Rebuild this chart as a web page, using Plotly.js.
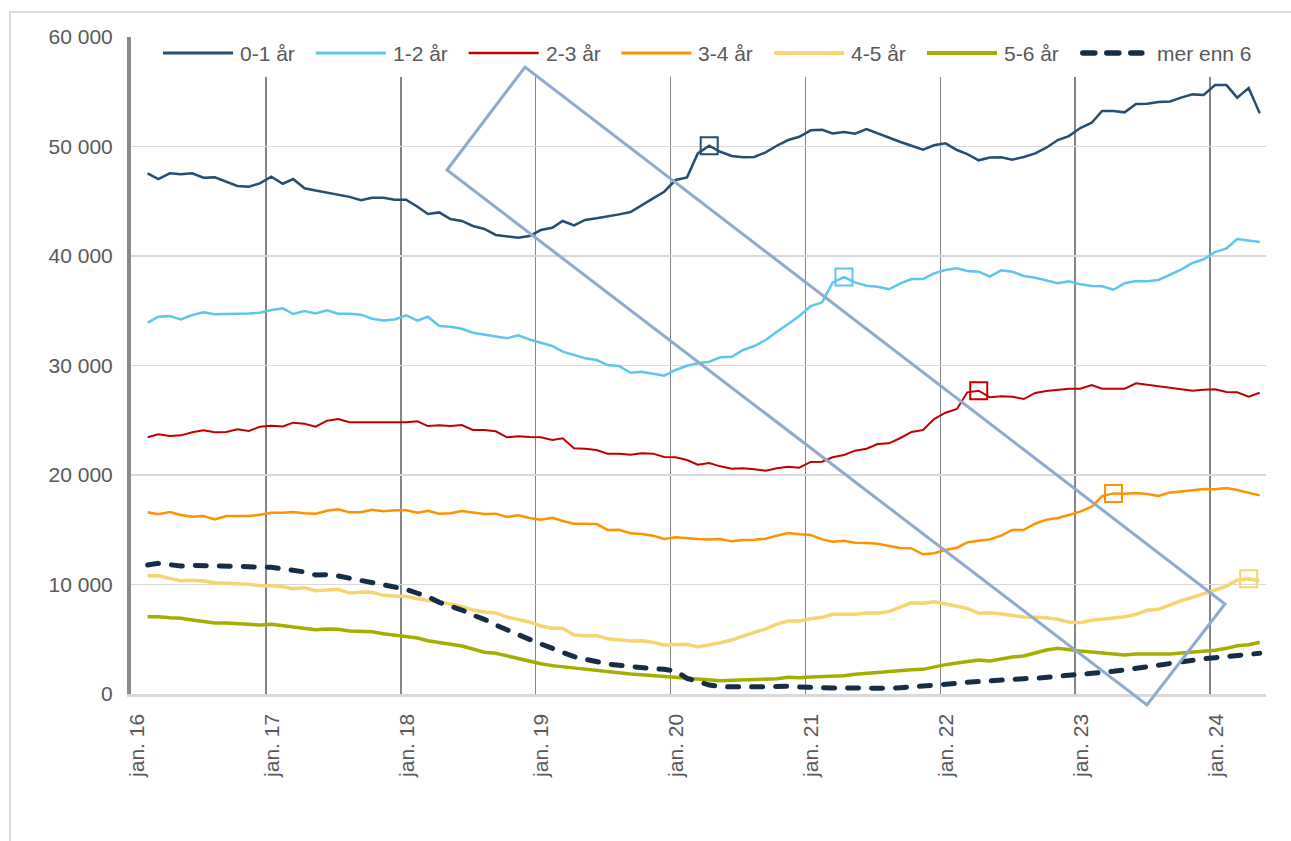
<!DOCTYPE html>
<html>
<head>
<meta charset="utf-8">
<script src="https://cdn.plot.ly/plotly-3.0.1.min.js"></script>
<style>
  html, body { margin: 0; padding: 0; background: #ffffff; }
  #chart { position: absolute; left: 0; top: 0; width: 1291px; height: 841px; }
  #frame { position: absolute; left: 9px; top: 11px; right: 0; bottom: 0;
           border-left: 2px solid #d9d9d9; border-top: 2px solid #d9d9d9; pointer-events: none; }
</style>
</head>
<body>
<div id="chart"></div>
<div id="frame"></div>
<script>
// ---------- DATA ----------
const seriesNames = ['0-1 år', '1-2 år', '2-3 år', '3-4 år', '4-5 år', '5-6 år', 'mer enn 6'];

// monthly observations, Feb 2016 .. May 2024 (100 months)
const firstYear = 2016, firstMonth = 2, nMonths = 100;

const s01 = [47550,47030,47550,47460,47550,47150,47180,46760,46390,46330,
             46630,47240,46600,47030,46180,45990,45780,45600,45400,45090,
             45320,45320,45140,45140,44500,43830,43980,43380,43200,42740,
             42470,41920,41800,41670,41820,42370,42580,43200,42800,43290,
             43440,43590,43800,44020,44660,45260,45870,46940,47180,49370,
             50070,49520,49130,49010,49040,49470,50070,50590,50890,51480,
             51530,51190,51320,51170,51600,51190,50830,50410,50070,49710,
             50110,50290,49680,49310,48740,49000,49010,48800,49040,49370,
             49890,50590,50950,51690,52170,53240,53240,53120,53880,53910,
             54060,54120,54460,54760,54700,55610,55610,54460,55340,53030];

const s12 = [33910,34460,34520,34210,34610,34860,34680,34680,34730,34760,
             34820,35070,35220,34700,34970,34760,35040,34730,34730,34640,
             34270,34120,34210,34580,34090,34460,33610,33540,33360,32990,
             32840,32690,32480,32750,32380,32080,31780,31260,30990,30660,
             30500,30040,29950,29340,29430,29280,29070,29590,29980,30200,
             30350,30750,30800,31410,31780,32330,33090,33790,34520,35430,
             35770,37560,38080,37590,37280,37190,36960,37510,37900,37900,
             38420,38720,38880,38630,38570,38110,38690,38570,38170,38020,
             37740,37510,37690,37410,37260,37230,36920,37510,37720,37690,
             37810,38260,38750,39360,39700,40360,40700,41550,41430,41280];

const s23 = [23440,23710,23560,23620,23900,24080,23900,23930,24170,24020,
             24410,24500,24440,24780,24680,24410,24960,25110,24810,24810,
             24750,24810,24810,24810,24900,24470,24540,24470,24560,24110,
             24110,23990,23440,23530,23470,23440,23200,23350,22440,22400,
             22280,21950,21950,21850,21980,21950,21640,21620,21370,20940,
             21090,20790,20580,20610,20520,20390,20610,20760,20670,21190,
             21220,21620,21830,22220,22400,22830,22890,23380,23930,24110,
             25110,25690,26030,27550,27700,27100,27190,27150,26940,27490,
             27670,27760,27880,27880,28220,27880,27910,27880,28370,28250,
             28070,27980,27850,27700,27790,27820,27580,27550,27150,27510];

const s34 = [16590,16410,16620,16350,16190,16250,15950,16250,16250,16250,
             16370,16560,16560,16620,16500,16470,16740,16860,16590,16590,
             16830,16680,16770,16770,16560,16740,16470,16500,16710,16590,
             16440,16470,16160,16320,16070,15920,16100,15800,15550,15550,
             15520,14980,15000,14670,14610,14460,14160,14310,14220,14150,
             14120,14150,13940,14060,14090,14180,14460,14700,14580,14520,
             14120,13910,14000,13820,13790,13730,13520,13330,13300,12760,
             12850,13150,13360,13850,14000,14120,14460,14980,15000,15550,
             15920,16070,16350,16650,17100,18080,18320,18290,18350,18260,
             18080,18410,18500,18630,18720,18690,18810,18630,18410,18140];

const s45 = [10800,10800,10560,10350,10380,10320,10160,10110,10140,10020,
             9890,9890,9800,9620,9710,9430,9500,9560,9220,9310,
             9290,9010,8950,8920,8700,8560,8430,8220,7970,7670,
             7490,7400,7030,6820,6580,6210,6000,6000,5390,5330,
             5330,5050,4930,4840,4870,4720,4470,4470,4540,4290,
             4470,4680,4930,5300,5630,5940,6390,6670,6670,6880,
             7000,7280,7280,7280,7400,7400,7520,7920,8340,8280,
             8430,8220,7970,7820,7370,7420,7300,7150,7030,7000,
             6970,6820,6580,6510,6730,6820,6910,7060,7280,7640,
             7730,8130,8520,8830,9130,9500,9860,10410,10530,10350];

const s56 = [7060,7060,6970,6910,6760,6640,6480,6480,6420,6300,
             6300,6360,6240,6150,6030,5870,5940,5910,5750,5720,
             5690,5510,5360,5230,5110,4870,4720,4570,4380,4110,
             3810,3720,3470,3260,3040,2770,2590,2490,2350,2220,
             2130,1980,1920,1830,1760,1670,1610,1490,1430,1340,
             1280,1220,1250,1280,1280,1340,1400,1520,1490,1550,
             1580,1580,1670,1800,1890,1950,2010,2130,2220,2250,
             2470,2680,2830,2990,3110,3010,3220,3380,3470,3770,
             4020,4170,4020,3930,3840,3740,3680,3560,3650,3650,
             3650,3650,3740,3840,3870,3990,4170,4410,4500,4720];

const s6p = [11780,11930,11810,11690,11750,11720,11690,11720,11720,11690,
             11600,11570,11440,11320,11140,10870,10900,10780,10590,10410,
             10160,9950,9800,9560,9200,8890,8370,8040,7670,7210,
             6820,6300,5840,5390,4990,4570,4170,3770,3410,3170,
             2920,2740,2620,2490,2400,2310,2250,2100,1430,1080,
             820,670,640,640,670,670,700,700,640,580,
             550,550,550,520,520,520,520,580,640,730,
             820,910,970,1070,1160,1220,1280,1340,1400,1430,
             1520,1580,1640,1710,1830,1950,2070,2190,2350,2490,
             2650,2800,2950,3110,3220,3310,3410,3530,3620,3720];

// one highlighted month per cohort (April each year)
const highlightMonths = ['2020-04', '2021-04', '2022-04', '2023-04', '2024-04'];

const xTickVals = ['2016-01-01','2017-01-01','2018-01-01','2019-01-01','2020-01-01',
                   '2021-01-01','2022-01-01','2023-01-01','2024-01-01'];
const xTickText = ['jan. 16','jan. 17','jan. 18','jan. 19','jan. 20',
                   'jan. 21','jan. 22','jan. 23','jan. 24'];
const yTickVals = [0, 10000, 20000, 30000, 40000, 50000, 60000];
const yTickText = ['0', '10 000', '20 000', '30 000', '40 000', '50 000', '60 000'];

// ---------- BUILD ----------
const months = [];
for (let i = 0; i < nMonths; i++) {
  const d = new Date(Date.UTC(firstYear, firstMonth - 1 + i, 15));
  months.push(d.toISOString().slice(0, 10));
}

const allSeries = [s01, s12, s23, s34, s45, s56, s6p];
const colors = ['#254e72', '#5ec5ee', '#c00000', '#ff9200', '#f4d572', '#a4ae00', '#172d45'];
const widths = [2.5, 2.5, 2, 2.5, 3.5, 3.5, 5];
const dashes = ['solid', 'solid', 'solid', 'solid', 'solid', 'solid', '11px,13px'];

const traces = allSeries.map((s, k) => ({
  type: 'scatter', mode: 'lines', name: seriesNames[k],
  x: months, y: s, showlegend: false, hoverinfo: 'skip',
  line: { color: colors[k], width: widths[k], dash: dashes[k] }
}));

highlightMonths.forEach((m, k) => {
  const idx = months.findIndex(d => d.startsWith(m));
  traces.push({
    type: 'scatter', mode: 'markers', showlegend: false, hoverinfo: 'skip',
    x: [months[idx]], y: [allSeries[k][idx]],
    marker: { symbol: 'square-open', size: 17, color: colors[k], line: { width: 2, color: colors[k] } }
  });
});

// plot area in page pixels
const L = 131, R = 1266, T = 37, B = 694;
const px = X => (X - L) / (R - L);
const py = Y => (B - Y) / (B - T);

const font = 'Arial, "Liberation Sans", sans-serif';
const shapes = [];
const annotations = [];

// white legend band covering gridlines
shapes.push({ type: 'rect', xref: 'paper', yref: 'paper', x0: px(139), x1: 1.0, y0: py(77), y1: 1.0,
  fillcolor: '#ffffff', line: { width: 0 }, layer: 'above' });

// legend
const legY = py(53);
seriesNames.forEach((name, k) => {
  const xs = 163 + 152.8 * k;
  const dashed = (k === 6);
  const x0 = dashed ? xs + 3 : xs;
  const x1 = dashed ? xs + 62 : xs + 70;
  shapes.push({ type: 'line', xref: 'paper', yref: 'paper', x0: px(x0), x1: px(x1), y0: legY, y1: legY,
    line: { color: colors[k], width: dashed ? 5.5 : widths[k] + 0.5, dash: dashed ? '12px,12px' : 'solid' }, layer: 'above' });
  annotations.push({ xref: 'paper', yref: 'paper', x: px(xs + 75), y: legY, xanchor: 'left', yanchor: 'middle',
    text: name, showarrow: false, font: { family: font, size: 21, color: '#595959' } });
});

// highlighted cohort band (rotated rectangle)
const band = [[447, 170], [525, 67], [1225, 604], [1147, 705]];
shapes.push({ type: 'path', xref: 'paper', yref: 'paper',
  path: 'M' + band.map(p => px(p[0]) + ',' + py(p[1])).join(' L') + ' Z',
  line: { color: '#8eaacc', width: 3 }, fillcolor: 'rgba(0,0,0,0)', layer: 'above' });

const layout = {
  width: 1291, height: 841,
  margin: { l: L, r: 1291 - R, t: T, b: 841 - B, pad: 0 },
  paper_bgcolor: '#ffffff', plot_bgcolor: '#ffffff',
  font: { family: font, size: 21, color: '#595959' },
  showlegend: false,
  xaxis: {
    type: 'date', range: ['2016-01-01', '2024-06-01'],
    tickmode: 'array', tickvals: xTickVals, ticktext: xTickText, tickangle: -90,
    ticklabelshift: 6, ticklabelstandoff: 9,
    showgrid: true, gridcolor: '#858585', gridwidth: 1.6,
    showline: true, linecolor: '#d9d9d9', linewidth: 2.5,
    zeroline: false, ticks: '', fixedrange: true,
    tickfont: { family: font, size: 21, color: '#595959' }
  },
  yaxis: {
    range: [0, 60000], tickmode: 'array', tickvals: yTickVals, ticktext: yTickText,
    showgrid: true, gridcolor: '#d9d9d9', gridwidth: 1.5,
    showline: true, linecolor: '#8a8a8a', linewidth: 4,
    zeroline: false, ticks: '', ticklabelstandoff: 10, fixedrange: true,
    tickfont: { family: font, size: 21, color: '#595959' }
  },
  shapes: shapes,
  annotations: annotations
};

Plotly.newPlot('chart', traces, layout, { staticPlot: true, displayModeBar: false }).then(() => {
  // rounded dash ends, as in the original
  document.querySelectorAll('#chart path').forEach(p => {
    const da = p.style.strokeDasharray;
    if (da && da !== 'none' && da !== '') p.style.strokeLinecap = 'round';
  });
});
</script>
</body>
</html>
